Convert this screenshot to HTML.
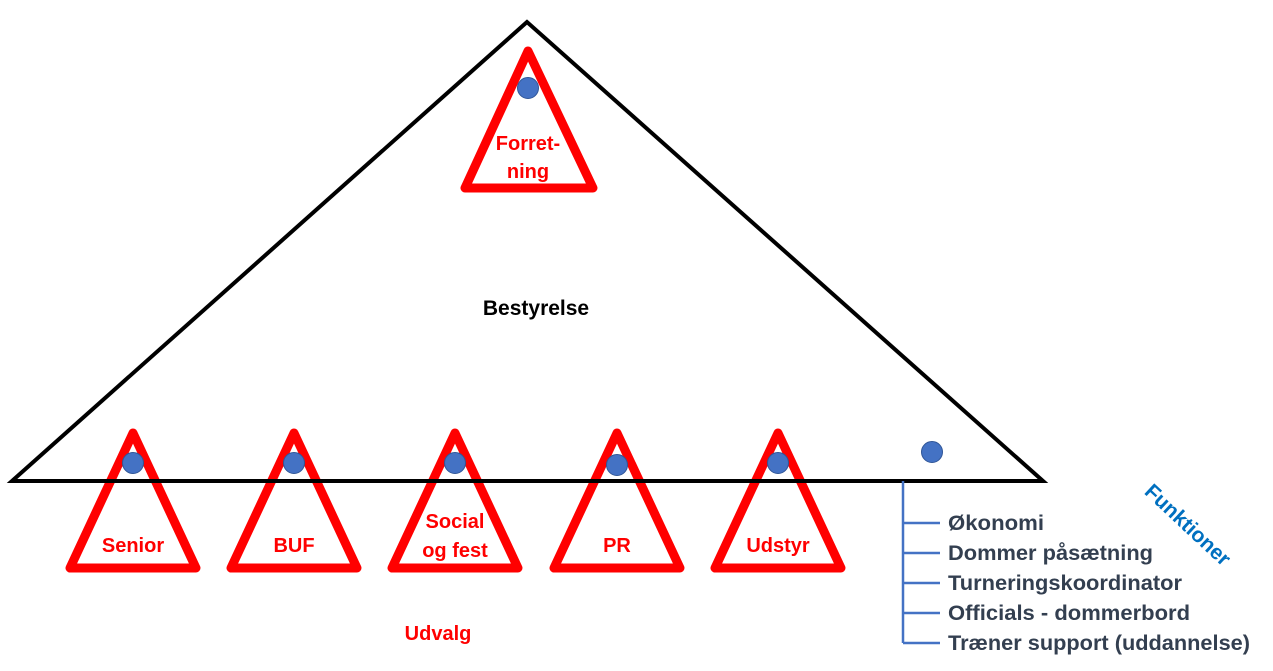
<!DOCTYPE html>
<html><head><meta charset="utf-8"><style>
html,body{margin:0;padding:0;background:#fff;}
svg{display:block;}
</style></head><body>
<svg width="1273" height="671" viewBox="0 0 1273 671" xmlns="http://www.w3.org/2000/svg" font-family="Liberation Sans, sans-serif" font-weight="bold">
<g fill="#fff" stroke="#ff0000" stroke-width="9" stroke-linejoin="round">
<polygon points="528,51 465,188 593,188"/>
<polygon points="133,433 70,568 196,568"/>
<polygon points="294,433 231,568 357,568"/>
<polygon points="455,433 392,568 518,568"/>
<polygon points="617,433 554,568 680,568"/>
<polygon points="778,433 715,568 841,568"/>
</g>
<polygon points="527,22 12,481 1043,481" fill="none" stroke="#000" stroke-width="4" stroke-linejoin="miter"/>
<g fill="#4472c4" stroke="#2f5597" stroke-width="1">
<circle cx="528" cy="88" r="10.5"/>
<circle cx="133" cy="463" r="10.5"/>
<circle cx="294" cy="463" r="10.5"/>
<circle cx="455" cy="463" r="10.5"/>
<circle cx="617" cy="465" r="10.5"/>
<circle cx="778" cy="463" r="10.5"/>
<circle cx="932" cy="452" r="10.5"/>
</g>
<g fill="#ff0000" font-size="20" text-anchor="middle">
<text x="528" y="150">Forret-</text>
<text x="528" y="178">ning</text>
<text x="133" y="552">Senior</text>
<text x="294" y="552">BUF</text>
<text x="455" y="528">Social</text>
<text x="455" y="557">og fest</text>
<text x="617" y="552">PR</text>
<text x="778" y="552">Udstyr</text>
<text x="438" y="640">Udvalg</text>
</g>
<text x="536" y="315" font-size="21" text-anchor="middle" fill="#000">Bestyrelse</text>
<g stroke="#4472c4" stroke-width="2.5" fill="none">
<line x1="903" y1="481" x2="903" y2="643"/>
<line x1="903" y1="523" x2="940" y2="523"/>
<line x1="903" y1="553" x2="940" y2="553"/>
<line x1="903" y1="583" x2="940" y2="583"/>
<line x1="903" y1="613" x2="940" y2="613"/>
<line x1="903" y1="643" x2="940" y2="643"/>
</g>
<g fill="#333f50" font-size="21">
<text x="948" y="530" textLength="96" lengthAdjust="spacingAndGlyphs">Økonomi</text>
<text x="948" y="560" textLength="205" lengthAdjust="spacingAndGlyphs">Dommer påsætning</text>
<text x="948" y="590" textLength="234" lengthAdjust="spacingAndGlyphs">Turneringskoordinator</text>
<text x="948" y="620" textLength="242" lengthAdjust="spacingAndGlyphs">Officials - dommerbord</text>
<text x="948" y="650" textLength="302" lengthAdjust="spacingAndGlyphs">Træner support (uddannelse)</text>
</g>
<text x="0" y="0" font-size="21" fill="#0070c0" text-anchor="middle" transform="translate(1183,530) rotate(43)">Funktioner</text>
</svg>
</body></html>
